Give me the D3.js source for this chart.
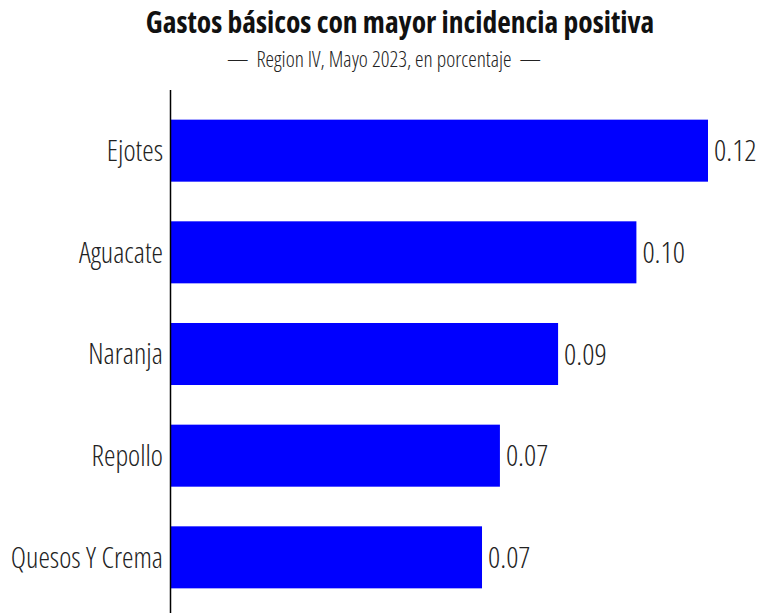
<!DOCTYPE html>
<html>
<head>
<meta charset="utf-8">
<script src="https://cdn.jsdelivr.net/npm/d3@7"></script>
<style>
  body { margin: 0; background: #fff; }
  svg { display: block; font-family: "Open Sans", "Liberation Sans Narrow", sans-serif; font-stretch: condensed; }
  .axis text { font-size: 29px; font-weight: 300; fill: #222; font-family: "Open Sans", sans-serif; font-stretch: condensed; }
  .axis path { display: none; }
</style>
</head>
<body>
<div id="chart"></div>
<script>
// gastos basicos, mayor incidencia positiva
const categories = ['Ejotes', 'Aguacate', 'Naranja', 'Repollo', 'Quesos Y Crema'];
const values = [0.12, 0.104, 0.0865, 0.0735, 0.0695];

const W = 769, H = 613;
const margin = { left: 171, right: 61, top: 80, bottom: -15 };

const svg = d3.select('#chart').append('svg')
    .attr('width', W)
    .attr('height', H);

const x = d3.scaleLinear()
    .domain([0, d3.max(values)])
    .range([margin.left, W - margin.right]);

const y = d3.scaleBand()
    .domain(categories)
    .range([margin.top, H - margin.bottom])
    .padding(0.39);

// title
svg.append('text')
    .attr('x', 400)
    .attr('y', 33)
    .attr('text-anchor', 'middle')
    .style('font-size', '29.5px')
    .style('font-weight', 700)
    .style('fill', '#111')
    .text('Gastos básicos con mayor incidencia positiva');

svg.append('text')
    .attr('x', 384)
    .attr('y', 67)
    .attr('text-anchor', 'middle')
    .style('font-size', '21.5px')
    .style('font-weight', 300)
    .style('fill', '#222')
    .text('—\u00a0 Region IV, Mayo 2023, en porcentaje \u00a0—');

const data = categories.map((c, i) => ({ cat: c, val: values[i] }));

svg.selectAll('.bar')
    .data(data)
    .enter()
    .append('rect')
    .attr('class', 'bar')
    .attr('x', x(0))
    .attr('y', d => y(d.cat))
    .attr('width', d => x(d.val) - x(0))
    .attr('height', y.bandwidth())
    .attr('fill', '#0000ff');

svg.selectAll('.val')
    .data(data)
    .enter()
    .append('text')
    .attr('class', 'val')
    .attr('x', d => x(d.val) + 6)
    .attr('y', d => y(d.cat) + y.bandwidth() / 2)
    .attr('dy', '0.36em')
    .style('font-size', '30px')
    .style('font-weight', 300)
    .style('fill', '#222')
    .text(d => d3.format('.2f')(d.val));

svg.append('g')
    .attr('class', 'axis')
    .attr('transform', `translate(${margin.left},0)`)
    .call(d3.axisLeft(y).tickSize(0).tickPadding(8))
    .attr('font-family', null)
    .attr('font-size', null)
    .selectAll('text')
    .attr('dy', '0.36em');

svg.append('line')
    .attr('x1', margin.left - 0.5)
    .attr('x2', margin.left - 0.5)
    .attr('y1', 90)
    .attr('y2', H)
    .attr('stroke', '#000')
    .attr('stroke-width', 1.5);
</script>
</body>
</html>
